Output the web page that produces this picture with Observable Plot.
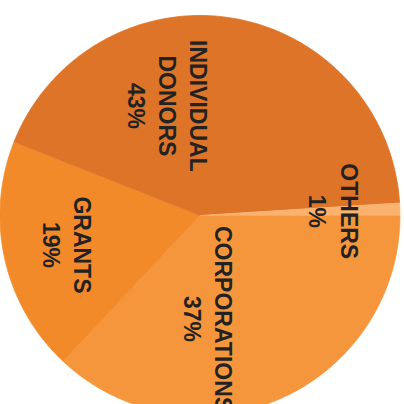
<!DOCTYPE html>
<html><head><meta charset="utf-8">
<script src="https://cdn.jsdelivr.net/npm/d3@7"></script>
<script src="https://cdn.jsdelivr.net/npm/@observablehq/plot@0.6"></script>
<style>html,body{margin:0;padding:0;background:#fff;} svg{display:block}</style>
</head><body><div id="chart"></div>
<script>
// Data
const categories = ["CORPORATIONS", "GRANTS", "INDIVIDUAL DONORS", "OTHERS"];
const shares = [37, 19, 43, 1];
const labelLines = ["CORPORATIONS", "GRANTS", "INDIVIDUAL\nDONORS", "OTHERS"];

// Styles
const colors = ["#F6963C", "#F28A2A", "#DE7428", "#FAB26E"];

const rows = categories.map((c, i) => ({cat: c, value: shares[i], label: labelLines[i] + "\n" + shares[i] + "%"}));
const arcs = d3.pie().sort(null).value(d => d.value)
  .startAngle(Math.PI / 2).endAngle(Math.PI / 2 + 2 * Math.PI)(rows);

// wedge outlines (unit circle geometry)
const wedge = [];
for (const a of arcs) {
  wedge.push({cat: a.data.cat, x: 0, y: 0});
  const n = Math.max(2, Math.ceil((a.endAngle - a.startAngle) / 0.005));
  for (let k = 0; k <= n; k++) {
    const t = a.startAngle + (a.endAngle - a.startAngle) * k / n;
    wedge.push({cat: a.data.cat, x: Math.sin(t), y: Math.cos(t)});
  }
}
// label placement along each slice (polar layout)
const labelLayout = {"INDIVIDUAL DONORS": {shift: -25, r: 0.57}, "CORPORATIONS": {shift: 18, r: 0.52}};
const labelPts = arcs.map(a => {
  const L = labelLayout[a.data.cat] || {shift: 0, r: 0.675};
  const t = (a.startAngle + a.endAngle) / 2 + L.shift * Math.PI / 180;
  return {label: a.data.label, x: L.r * Math.sin(t), y: L.r * Math.cos(t)};
});

const chart = Plot.plot({
  width: 404,
  height: 404,
  margin: 0,
  x: {domain: [-0.9975, 1.0225], axis: null},
  y: {domain: [-0.945, 1.075], axis: null},
  color: {domain: categories, range: colors},
  marks: [
    Plot.line(wedge, {x: "x", y: "y", z: "cat", fill: "cat", stroke: "cat", strokeWidth: 0.8, curve: "linear"}),
    Plot.text(labelPts, {
      x: "x", y: "y", text: "label", rotate: 90,
      fontSize: 23, fontWeight: 700, fontFamily: "Liberation Sans, Arial, sans-serif",
      fill: "#222", lineHeight: 1.35
    })
  ]
});
document.getElementById("chart").appendChild(chart);
</script>
</body></html>
